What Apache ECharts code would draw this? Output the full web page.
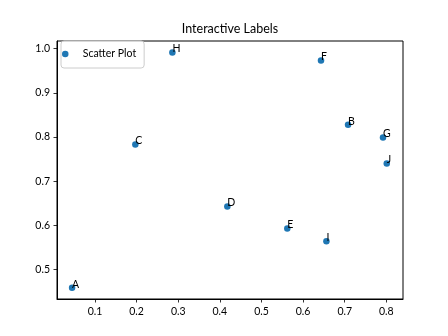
<!DOCTYPE html>
<html>
<head>
<meta charset="utf-8">
<script src="https://cdn.jsdelivr.net/npm/echarts@6/dist/echarts.min.js"></script>
<style>html,body{margin:0;padding:0;background:#fff}#c{width:448px;height:336px}</style>
</head>
<body>
<div id="c"></div>
<script>
const names = ['A','B','C','D','E','F','G','H','I','J'];
const xValues = [0.045, 0.708, 0.197, 0.418, 0.562, 0.643, 0.792, 0.286, 0.656, 0.801];
const yValues = [0.459, 0.828, 0.783, 0.643, 0.593, 0.973, 0.799, 0.991, 0.564, 0.740];
const seriesName = 'Scatter Plot';
const titleText = 'Interactive Labels';

const FONT = 'Lato';
const chart = echarts.init(document.getElementById('c'), null, {renderer: 'canvas'});
const data = names.map((n, i) => ({name: n, value: [xValues[i], yValues[i]]}));
const axisCommon = {
  type: 'value',
  splitLine: {show: false},
  axisLine: {show: true, lineStyle: {color: '#000', width: 1}},
  axisTick: {show: true, length: 3.5, lineStyle: {color: '#000', width: 0.8}},
  axisLabel: {
    color: '#000', fontSize: 10.5, fontFamily: FONT, margin: 7,
    showMinLabel: false, showMaxLabel: false,
    formatter: v => v.toFixed(1)
  }
};
chart.setOption({
  animation: false,
  textStyle: {fontFamily: FONT},
  title: {
    text: titleText, left: 230, top: 22, padding: 0, textAlign: 'center',
    textStyle: {fontSize: 12.5, fontWeight: 'normal', color: '#000', fontFamily: FONT}
  },
  legend: {
    show: true, left: 61, top: 41, orient: 'vertical',
    padding: [7, 8, 8, 1],
    itemWidth: 25, itemHeight: 6.5,
    icon: 'circle',
    borderColor: '#cccccc', borderWidth: 1, borderRadius: 3,
    backgroundColor: 'rgba(255,255,255,0.8)',
    textStyle: {fontSize: 10.5, lineHeight: 12, color: '#000', fontFamily: FONT}
  },
  grid: {left: 57, right: 45, top: 41, bottom: 37, show: true, borderColor: '#000', borderWidth: 1, containLabel: false},
  xAxis: Object.assign({}, axisCommon, {min: 0.0088, max: 0.84, splitNumber: 8}),
  yAxis: Object.assign({}, axisCommon, {min: 0.4335, max: 1.0172, splitNumber: 6}),
  series: [{
    name: seriesName,
    type: 'scatter',
    symbol: 'circle',
    symbolSize: 6.5,
    itemStyle: {color: '#1f77b4', opacity: 1},
    data: data,
    label: {
      show: true,
      formatter: '{b}',
      position: ['50%', '50%'],
      align: 'left',
      verticalAlign: 'bottom',
      offset: [0, 2],
      fontSize: 10.5,
      color: '#000',
      fontFamily: FONT
    }
  }]
});
</script>
</body>
</html>
